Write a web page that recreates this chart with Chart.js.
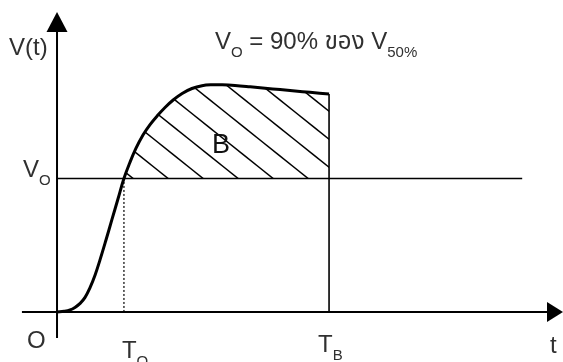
<!DOCTYPE html>
<html>
<head>
<meta charset="utf-8">
<script src="https://cdn.jsdelivr.net/npm/chart.js@4"></script>
<style>
  html, body { margin: 0; padding: 0; background: #fff; }
  #chart { display: block; }
</style>
</head>
<body>
<canvas id="chart" width="563" height="362"></canvas>
<script>
// response curve V(t), time in arbitrary units (T_B = 10), voltage relative to V_O
const times = [0, 0.26, 0.48, 0.66, 0.85, 1.03, 1.21, 1.40, 1.58, 1.80, 2.02, 2.24, 2.46,
  2.68, 2.90, 3.16, 3.42, 3.68, 3.97, 4.27, 4.60, 4.96, 5.33, 5.70, 6.07, 6.54, 7.10,
  7.65, 8.20, 8.75, 9.30, 10.0];
const volts = [0, 0.005, 0.015, 0.034, 0.064, 0.109, 0.180, 0.277, 0.390, 0.539, 0.693, 0.846, 1.00,
  1.120, 1.225, 1.326, 1.404, 1.468, 1.532, 1.588, 1.637, 1.674, 1.695, 1.702, 1.702, 1.697, 1.687,
  1.676, 1.666, 1.655, 1.645, 1.633];

const V_O = 1;        // 90% of V50%
const T_O = 2.46;
const T_B = 10;
const V_O_END = 17.1; // where the V_O reference line stops

const X_MIN = -2.096, X_MAX = 18.6;
const Y_MIN = -0.375, Y_MAX = 2.337;

const FONT = '"Liberation Sans", Arial, "Noto Sans Thai", "Noto Sans", sans-serif';
const TEXT_COLOR = '#303030';

function hatchPattern() {
  const c = document.createElement('canvas');
  c.width = 35;
  c.height = 28;
  const g = c.getContext('2d');
  g.strokeStyle = '#000';
  g.lineWidth = 1.4;
  const s = 15;
  for (const dx of [-70, -35, 0, 35]) {
    g.beginPath();
    g.moveTo(dx + s - 35, -28);
    g.lineTo(dx + s + 70, 56);
    g.stroke();
  }
  return g.createPattern(c, 'repeat');
}

const curve = times.map((t, i) => ({ x: t, y: volts[i] }));
const vEnd = volts[volts.length - 1];

function line(data, extra) {
  return Object.assign({
    data,
    showLine: true,
    borderColor: '#000',
    borderWidth: 1.6,
    pointRadius: 0,
    fill: false,
  }, extra);
}

const arrows = {
  id: 'arrows',
  afterDatasetsDraw(chart) {
    const { ctx, scales: { x, y } } = chart;
    ctx.save();
    ctx.fillStyle = '#000';
    // up arrow on V axis
    const ax = x.getPixelForValue(0);
    const tipY = y.getPixelForValue(2.247);
    ctx.beginPath();
    ctx.moveTo(ax, tipY);
    ctx.lineTo(ax - 10.5, tipY + 20);
    ctx.lineTo(ax + 10.5, tipY + 20);
    ctx.closePath();
    ctx.fill();
    // right arrow on t axis
    const ay = y.getPixelForValue(0);
    const tipX = x.getPixelForValue(X_MAX);
    ctx.beginPath();
    ctx.moveTo(tipX, ay);
    ctx.lineTo(tipX - 16, ay - 10);
    ctx.lineTo(tipX - 16, ay + 10);
    ctx.closePath();
    ctx.fill();
    ctx.restore();
  }
};

// draw text made of normal and subscript parts
function label(ctx, px, py, parts, color, size) {
  let cx = px;
  ctx.fillStyle = color || TEXT_COLOR;
  ctx.textBaseline = 'alphabetic';
  ctx.textAlign = 'left';
  for (const [txt, sub] of parts) {
    ctx.font = (sub ? '15px ' : (size || 24) + 'px ') + FONT;
    ctx.fillText(txt, cx, sub ? py + 8 : py);
    cx += ctx.measureText(txt).width;
  }
}

const labels = {
  id: 'labels',
  afterDraw(chart) {
    const { ctx, scales: { x, y } } = chart;
    const ox = x.getPixelForValue(0);
    const oy = y.getPixelForValue(0);
    ctx.save();
    label(ctx, 9, 55, [['V(t)']]);
    label(ctx, 215, 49, [['V'], ['O', 1], [' = 90% ของ V'], ['50%', 1]]);
    label(ctx, ox - 34, y.getPixelForValue(V_O) - 1.5, [['V'], ['O', 1]]);
    label(ctx, ox - 30, oy + 36, [['O']]);
    label(ctx, x.getPixelForValue(T_O) - 2, oy + 46, [['T'], ['O', 1]]);
    label(ctx, x.getPixelForValue(T_B) - 11, oy + 40, [['T'], ['B', 1]]);
    label(ctx, x.getPixelForValue(X_MAX) - 13, oy + 41, [['t']]);
    label(ctx, 212, 153, [['B']], '#111', 27);
    ctx.restore();
  }
};

new Chart(document.getElementById('chart'), {
  type: 'scatter',
  data: {
    datasets: [
      line(curve, {
        borderWidth: 3,
        tension: 0.4,
        fill: { target: { value: V_O }, above: hatchPattern(), below: 'rgba(0,0,0,0)' },
      }),
      line([{ x: 0, y: V_O }, { x: V_O_END, y: V_O }]),
      line([{ x: T_B, y: 0 }, { x: T_B, y: vEnd }]),
      line([{ x: T_O, y: 0 }, { x: T_O, y: V_O }], { borderWidth: 1.2, borderDash: [2, 2] }),
      line([{ x: -1.29, y: 0 }, { x: X_MAX - 0.5, y: 0 }], { borderWidth: 2 }),
      line([{ x: 0, y: -0.195 }, { x: 0, y: 2.1 }], { borderWidth: 2 }),
    ]
  },
  options: {
    responsive: false,
    animation: false,
    layout: { padding: 0 },
    plugins: {
      legend: { display: false },
      tooltip: { enabled: false },
    },
    scales: {
      x: { type: 'linear', min: X_MIN, max: X_MAX, display: false },
      y: { type: 'linear', min: Y_MIN, max: Y_MAX, display: false },
    },
  },
  plugins: [arrows, labels],
});
</script>
</body>
</html>
